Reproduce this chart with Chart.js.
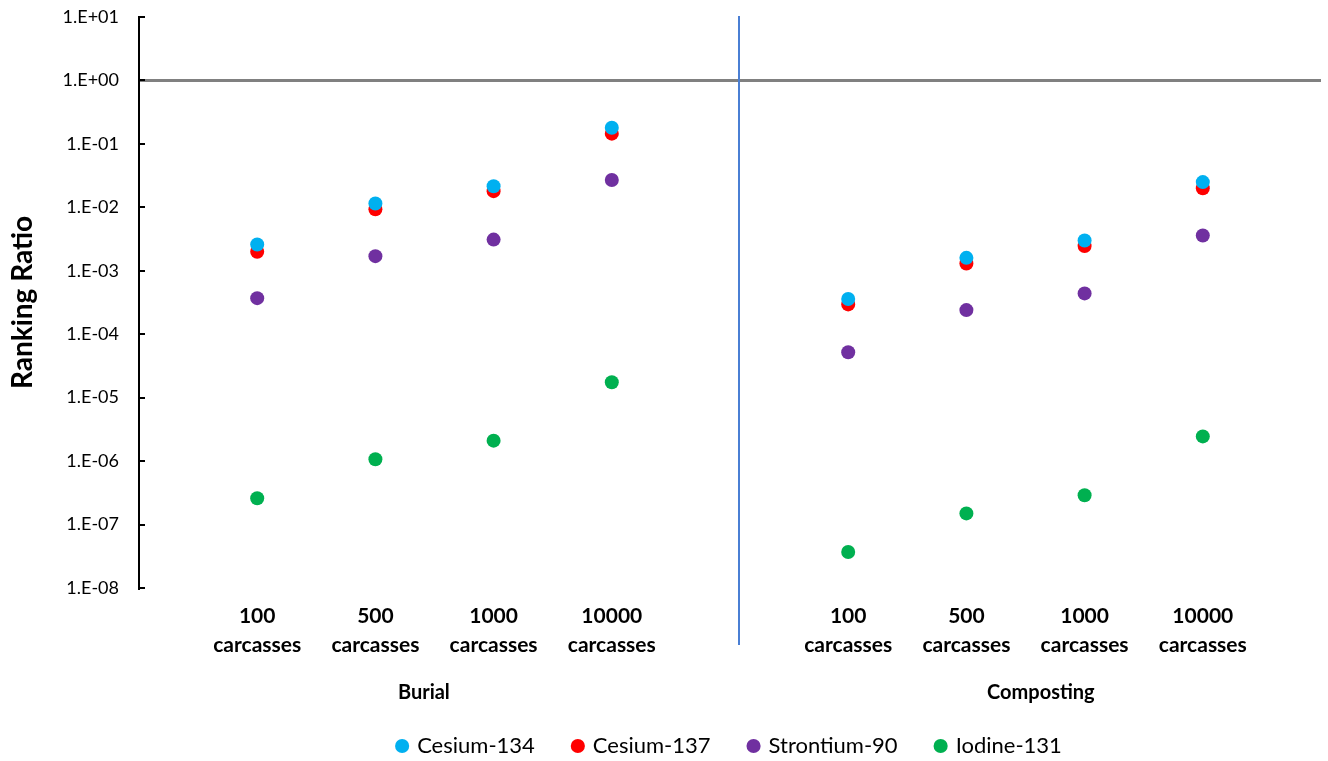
<!DOCTYPE html>
<html lang="en">
<head>
    <meta charset="UTF-8">
    <title>Ranking Ratio - Burial vs Composting</title>
    <script src="https://cdn.jsdelivr.net/npm/chart.js"></script>
    <style>
        body {
            margin: 0;
            background-color: #ffffff;
            font-family: 'Lato', sans-serif;
        }

        #chart-container {
            width: 1328px;
            height: 761px;
            position: relative;
        }
    </style>
</head>
<body>

    <div id="chart-container">
        <canvas id="myChart"></canvas>
    </div>

    <script>
        // categories and groups
        var categories = ['100', '500', '1000', '10000'];
        var categoryUnit = 'carcasses';
        var groups = ['Burial', 'Composting'];
        var burialX = [1, 2, 3, 4];
        var compostX = [6, 7, 8, 9];
        var groupCenters = [2.41, 7.63];
        var dividerX = 5.08;

        // y tick labels (powers of ten)
        var yTickExponents = [1, 0, -1, -2, -3, -4, -5, -6, -7, -8];

        // series values
        var cs134Burial = [2.6e-3, 1.15e-2, 2.15e-2, 1.8e-1];
        var cs134Compost = [3.6e-4, 1.6e-3, 3.0e-3, 2.5e-2];
        var cs137Burial = [2.0e-3, 9.3e-3, 1.8e-2, 1.45e-1];
        var cs137Compost = [2.95e-4, 1.3e-3, 2.45e-3, 2.0e-2];
        var sr90Burial = [3.7e-4, 1.7e-3, 3.1e-3, 2.7e-2];
        var sr90Compost = [5.2e-5, 2.4e-4, 4.4e-4, 3.6e-3];
        var i131Burial = [2.6e-7, 1.07e-6, 2.1e-6, 1.75e-5];
        var i131Compost = [3.7e-8, 1.5e-7, 2.9e-7, 2.45e-6];

        function toPoints(burial, compost) {
            var pts = [];
            burial.forEach(function (v, i) { pts.push({ x: burialX[i], y: v }); });
            compost.forEach(function (v, i) { pts.push({ x: compostX[i], y: v }); });
            return pts;
        }

        function makeSet(label, color, burial, compost) {
            return {
                label: label,
                data: toPoints(burial, compost),
                backgroundColor: color,
                borderColor: color,
                borderWidth: 0,
                pointRadius: 7,
                pointHoverRadius: 7,
                pointStyle: 'circle'
            };
        }

        function formatExp(v) {
            var e = Math.round(Math.log10(v));
            var s = e < 0 ? '-' : '+';
            var a = Math.abs(e);
            return '1.E' + s + (a < 10 ? '0' + a : a);
        }

        // legend: wide item spacing but a fixed box height
        var legendHeight = {
            id: 'legendHeight',
            beforeLayout: function (chart) {
                var lg = chart.legend;
                if (lg && !lg._fitPatched) {
                    var fit = lg.fit;
                    lg.fit = function () {
                        fit.call(this);
                        this.height = 65;
                    };
                    lg._fitPatched = true;
                }
            }
        };

        // divider line, group labels and small inner tick marks on the y axis
        var decorations = {
            id: 'decorations',
            afterDraw: function (chart) {
                var c = chart.ctx;
                var area = chart.chartArea;
                var xs = chart.scales.x;
                var ys = chart.scales.y;

                c.save();
                var px = Math.round(xs.getPixelForValue(dividerX));
                c.strokeStyle = '#4a7fd4';
                c.lineWidth = 2;
                c.beginPath();
                c.moveTo(px, area.top - 1);
                c.lineTo(px, area.bottom + 57);
                c.stroke();

                c.fillStyle = '#000000';
                c.font = 'bold 20px Lato';
                c.textAlign = 'center';
                c.textBaseline = 'middle';
                groups.forEach(function (g, i) {
                    c.fillText(g, xs.getPixelForValue(groupCenters[i]), area.bottom + 105);
                });

                c.strokeStyle = '#000000';
                c.lineWidth = 2;
                ys.ticks.forEach(function (t) {
                    var py = Math.round(ys.getPixelForValue(t.value));
                    c.beginPath();
                    c.moveTo(area.left, py);
                    c.lineTo(area.left + 6, py);
                    c.stroke();
                });
                c.restore();
            }
        };

        var ctx = document.getElementById('myChart').getContext('2d');
        var myChart = new Chart(ctx, {
            type: 'scatter',
            data: {
                datasets: [
                    makeSet('Cesium-134', '#00b0f0', cs134Burial, cs134Compost),
                    makeSet('Cesium-137', '#ff0000', cs137Burial, cs137Compost),
                    makeSet('Strontium-90', '#7030a0', sr90Burial, sr90Compost),
                    makeSet('Iodine-131', '#00b050', i131Burial, i131Compost)
                ]
            },
            options: {
                responsive: true,
                maintainAspectRatio: false,
                animation: false,
                layout: {
                    padding: { top: 0, right: -8, bottom: 0, left: 0 }
                },
                plugins: {
                    tooltip: { enabled: false },
                    legend: {
                        position: 'bottom',
                        fullSize: false,
                        labels: {
                            usePointStyle: true,
                            boxWidth: 8,
                            boxHeight: 10,
                            padding: 39,
                            color: '#000000',
                            font: { family: 'Lato', size: 22 }
                        }
                    }
                },
                scales: {
                    x: {
                        type: 'linear',
                        min: 0,
                        max: 10,
                        grid: { display: false, drawTicks: false },
                        border: { display: false },
                        afterBuildTicks: function (scale) {
                            scale.ticks = burialX.concat(compostX).map(function (v) { return { value: v }; });
                        },
                        afterFit: function (scale) {
                            scale.height = 108;
                        },
                        ticks: {
                            autoSkip: false,
                            maxRotation: 0,
                            padding: 14,
                            color: '#000000',
                            font: { family: 'Lato', size: 21, weight: 'bold', lineHeight: 1.38 },
                            callback: function (v) {
                                var i = burialX.indexOf(v);
                                if (i < 0) i = compostX.indexOf(v);
                                return i < 0 ? '' : [categories[i], categoryUnit];
                            }
                        }
                    },
                    y: {
                        type: 'logarithmic',
                        min: 1e-8,
                        max: 10,
                        afterBuildTicks: function (scale) {
                            scale.ticks = yTickExponents.map(function (e) { return { value: Math.pow(10, e) }; });
                        },
                        afterFit: function (scale) {
                            scale.width = 139;
                            scale.paddingTop = 17;
                            scale.paddingBottom = 0;
                        },
                        border: { display: true, color: '#000000', width: 2 },
                        grid: {
                            drawTicks: false,
                            lineWidth: 3,
                            color: function (c) {
                                return c.tick && c.tick.value === 1 ? '#808080' : 'rgba(0,0,0,0)';
                            }
                        },
                        ticks: {
                            padding: 20,
                            color: '#000000',
                            font: { family: 'Lato', size: 18 },
                            callback: function (v) { return formatExp(v); }
                        },
                        title: {
                            display: true,
                            text: 'Ranking Ratio',
                            color: '#000000',
                            font: { family: 'Lato', size: 28, weight: 'bold' },
                            padding: { top: 6, bottom: 0 }
                        }
                    }
                }
            },
            plugins: [legendHeight, decorations]
        });
    </script>

</body>
</html>
